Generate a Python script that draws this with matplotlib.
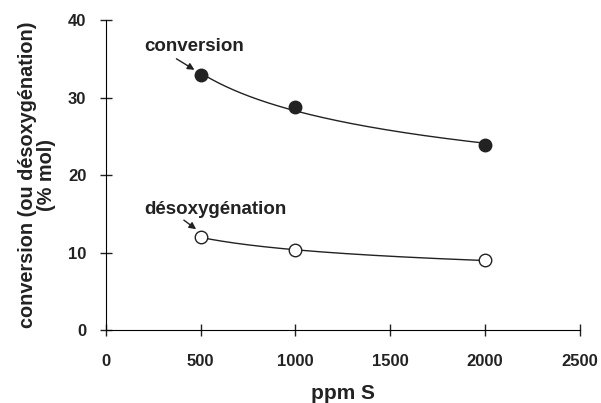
import numpy as np
import matplotlib
matplotlib.use('Agg')
import matplotlib.pyplot as plt

plt.rcParams['font.family'] = ['Liberation Sans', 'DejaVu Sans']
plt.rcParams['font.weight'] = 'bold'

# données
ppm = [500, 1000, 2000]
conversion = [32.9, 28.8, 23.9]
desoxy = [12.0, 10.3, 9.0]

fig = plt.figure(figsize=(6.01, 4.03), dpi=100)
ax = fig.add_axes([0.176, 0.181, 0.789, 0.769])

# courbes de tendance (type puissance, comme Excel)
xs = np.linspace(ppm[0], ppm[-1], 200)
for ys in (conversion, desoxy):
    b, lna = np.polyfit(np.log(ppm), np.log(ys), 1)
    ax.plot(xs, np.exp(lna) * xs ** b, color='#222222', lw=1.0)

ax.plot(ppm, conversion, 'o', ms=9, color='#222222', ls='none')
ax.plot(ppm, desoxy, 'o', ms=9, mfc='white', mec='#222222', mew=1.0, ls='none')

ax.annotate('', xy=(480, 33.4), xytext=(360, 35.2),
            arrowprops=dict(arrowstyle='-|>', color='#222222', lw=1.0, mutation_scale=10))
ax.text(205, 36.6, 'conversion', fontsize=13.5, fontweight='bold', va='center', ha='left', color='#222222')
ax.annotate('', xy=(488, 12.8), xytext=(400, 14.4),
            arrowprops=dict(arrowstyle='-|>', color='#222222', lw=1.0, mutation_scale=10))
ax.text(205, 15.5, 'désoxygénation', fontsize=13.5, fontweight='bold', va='center', ha='left', color='#222222')

ax.set_xlim(0, 2500)
ax.set_ylim(0, 40)
ax.set_xticks(range(0, 2501, 500))
ax.set_yticks(range(0, 41, 10))
ax.spines['top'].set_visible(False)
ax.spines['right'].set_visible(False)
ax.tick_params(direction='inout', length=8, width=1, labelsize=12, colors='#222222')
ax.tick_params(axis='x', pad=13)
ax.tick_params(axis='y', pad=10)
for lab in ax.get_xticklabels() + ax.get_yticklabels():
    lab.set_fontweight('bold')

ax.set_xlabel('ppm S', fontsize=15, fontweight='bold', color='#222222', labelpad=11)
ax.set_ylabel('conversion (ou désoxygénation)\n(% mol)', fontsize=14.3, fontweight='bold',
              color='#222222', linespacing=1.0)
ax.yaxis.set_label_coords(-0.106, 0.5)

plt.savefig('out.png', dpi=100)
